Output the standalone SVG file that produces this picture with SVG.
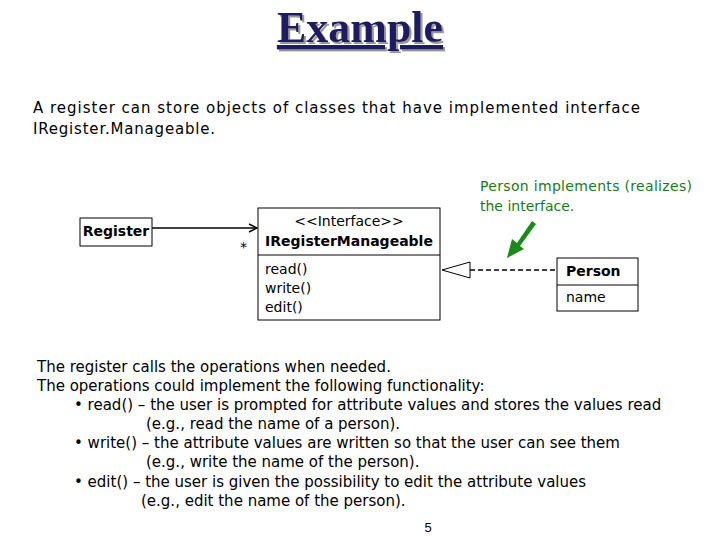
<svg xmlns="http://www.w3.org/2000/svg" width="720" height="540" viewBox="0 0 720 540">
<style>
.t{font-family:"DejaVu Sans",sans-serif;font-size:15px;fill:#000}
.b{font-family:"DejaVu Sans",sans-serif;font-size:14px;font-weight:bold;fill:#000}
.s{font-family:"DejaVu Sans",sans-serif;font-size:14px;fill:#000}
.g{font-family:"DejaVu Sans",sans-serif;font-size:14px;fill:#1a7a1a}
.box{fill:#fff;stroke:#000;stroke-width:1}
</style>
<defs>
<marker id="open" markerWidth="10" markerHeight="10" refX="9" refY="5" orient="auto" markerUnits="userSpaceOnUse"><path d="M1,1 L9,5 L1,9" fill="none" stroke="#000" stroke-width="1.5"/></marker>
<filter id="sh" x="-10%" y="-20%" width="130%" height="150%"><feDropShadow dx="2" dy="2" stdDeviation="0.5" flood-color="#999"/></filter>
</defs>
<rect width="720" height="540" fill="#fff"/>
<g id="title">
<text x="360" y="42" text-anchor="middle" font-family="Liberation Serif,serif" font-size="44" font-weight="bold" fill="#1a1a66" text-decoration="underline" filter="url(#sh)">Example</text>
</g>
<text class="t" x="33" y="113" textLength="607" lengthAdjust="spacing">A register can store objects of classes that have implemented interface</text>
<text class="t" x="33" y="134" textLength="182" lengthAdjust="spacing">IRegister.Manageable.</text>
<g id="Register"><rect class="box" x="80" y="218" width="72" height="28"/><text class="b" x="116" y="236" text-anchor="middle">Register</text></g>
<g id="IRegisterManageable"><rect class="box" x="258" y="208" width="182" height="112"/><line x1="258" y1="255" x2="440" y2="255" stroke="#000"/>
<text class="s" x="349" y="226" text-anchor="middle">&lt;&lt;Interface&gt;&gt;</text>
<text class="b" x="349" y="246" text-anchor="middle">IRegisterManageable</text>
<text class="s" x="265" y="274">read()</text><text class="s" x="265" y="293">write()</text><text class="s" x="265" y="312">edit()</text></g>
<g id="Person"><rect class="box" x="557" y="258" width="81" height="53"/><line x1="557" y1="285" x2="638" y2="285" stroke="#000"/>
<text class="b" x="566" y="276">Person</text><text class="s" x="566" y="302">name</text></g>
<g id="connectors">
<line x1="152" y1="228" x2="257" y2="228" stroke="#000" stroke-width="1.5" marker-end="url(#open)"/>
<text class="s" x="240" y="252">*</text>
<line x1="470" y1="270" x2="557" y2="270" stroke="#000" stroke-width="1.5" stroke-dasharray="5,3"/>
<polygon points="442,270 470,262 470,278" fill="#fff" stroke="#000"/>
</g>
<g id="note">
<text class="g" x="480" y="191" textLength="212" lengthAdjust="spacing">Person implements (realizes)</text>
<text class="g" x="480" y="211">the interface.</text>
<path d="M532,221 L517,243 L512,239 L507,258 L524,249 L520,246 L536,224 Z" fill="#1a8a1a"/>
</g>
<g>
<text class="t" x="37" y="372">The register calls the operations when needed.</text>
<text class="t" x="37" y="391">The operations could implement the following functionality:</text>
<text class="t" x="74" y="410">• read() – the user is prompted for attribute values and stores the values read</text>
<text class="t" x="146" y="429">(e.g., read the name of a person).</text>
<text class="t" x="74" y="448">• write() – the attribute values are written so that the user can see them</text>
<text class="t" x="146" y="467">(e.g., write the name of the person).</text>
<text class="t" x="74" y="487">• edit() – the user is given the possibility to edit the attribute values</text>
<text class="t" x="141" y="506">(e.g., edit the name of the person).</text>
</g>
<text font-family="Liberation Sans,sans-serif" font-size="13" x="428" y="532" text-anchor="middle">5</text>
</svg>
